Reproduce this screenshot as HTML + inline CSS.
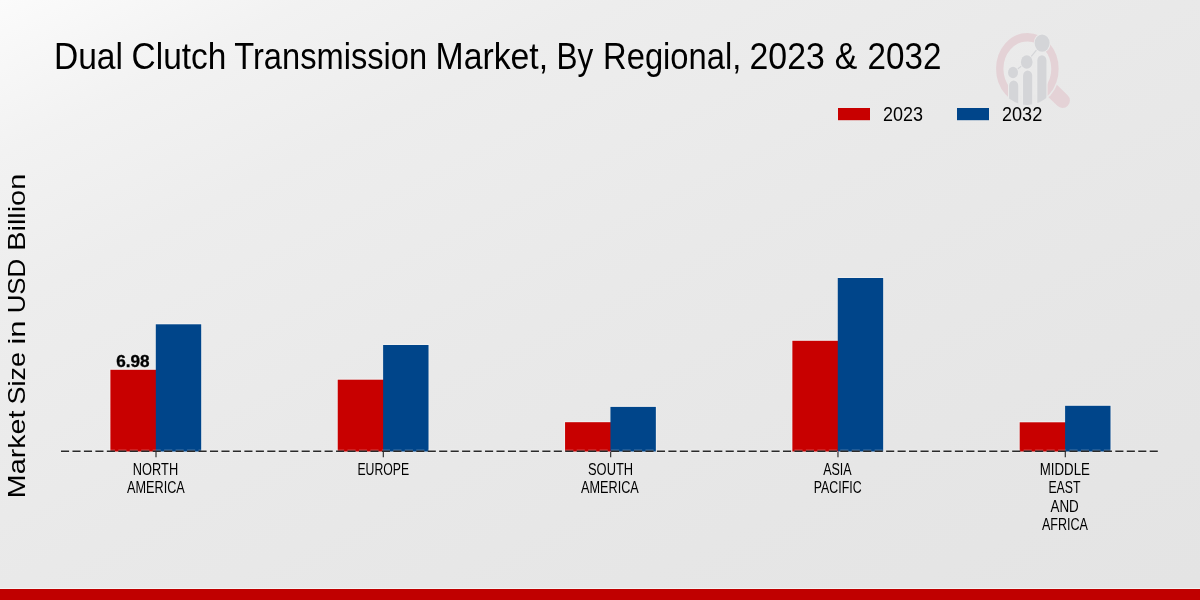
<!DOCTYPE html>
<html><head><meta charset="utf-8">
<style>
html,body{margin:0;padding:0;width:1200px;height:600px;overflow:hidden;background:#e8e8e8;}
svg{display:block;will-change:transform;font-family:"Liberation Sans",sans-serif;}
</style></head>
<body>
<svg width="1200" height="600" viewBox="0 0 1200 600">
<defs>
<linearGradient id="bg" gradientUnits="userSpaceOnUse" x1="0" y1="0" x2="472" y2="944">
<stop offset="0" stop-color="#fbfbfb"/>
<stop offset="0.13" stop-color="#f2f2f2"/>
<stop offset="0.26" stop-color="#ededed"/>
<stop offset="0.5" stop-color="#e9e9e9"/>
<stop offset="0.76" stop-color="#e6e6e6"/>
<stop offset="1" stop-color="#e4e4e4"/>
</linearGradient>
</defs>
<rect x="0" y="0" width="1200" height="600" fill="url(#bg)"/>

<!-- title -->
<g id="title" font-size="37.6" fill="#000">
<text x="53.93" y="69.2" textLength="69.09" lengthAdjust="spacingAndGlyphs">Dual</text>
<text x="131.61" y="69.2" textLength="94.79" lengthAdjust="spacingAndGlyphs">Clutch</text>
<text x="234.26" y="69.2" textLength="192.88" lengthAdjust="spacingAndGlyphs">Transmission</text>
<text x="435.52" y="69.2" textLength="112.54" lengthAdjust="spacingAndGlyphs">Market,</text>
<text x="556.60" y="69.2" textLength="36.76" lengthAdjust="spacingAndGlyphs">By</text>
<text x="603.10" y="69.2" textLength="138.17" lengthAdjust="spacingAndGlyphs">Regional,</text>
<text x="749.59" y="69.2" textLength="75.19" lengthAdjust="spacingAndGlyphs">2023</text>
<text x="834.63" y="69.2" textLength="22.59" lengthAdjust="spacingAndGlyphs">&amp;</text>
<text x="867.52" y="69.2" textLength="73.85" lengthAdjust="spacingAndGlyphs">2032</text>
</g>

<!-- logo watermark -->
<defs>
<clipPath id="lclip"><circle cx="0" cy="0" r="36.3"/></clipPath>
<mask id="rmask" maskUnits="userSpaceOnUse" x="-60" y="-60" width="120" height="120">
<rect x="-60" y="-60" width="120" height="120" fill="#fff"/>
<rect x="-21.5" y="7.2" width="44" height="60" fill="#000"/>
</mask>
<mask id="hmask" maskUnits="userSpaceOnUse" x="980" y="20" width="110" height="100">
<rect x="980" y="20" width="110" height="100" fill="#fff"/>
<ellipse cx="1027.35" cy="68.8" rx="32.9" ry="37.4" fill="#000"/>
</mask>
</defs>
<g id="logo">
<path d="M1053.3 81.25 L1067.66 95.19 A7.4 7.4 0 0 1 1057.34 105.81 L1043 91.9 Z" fill="#e4d2d6" mask="url(#hmask)"/>
<g transform="translate(1027.35 68.8) scale(0.874 1)">
<circle r="28" fill="#ffffff" fill-opacity="0.06"/>
<circle r="31.6" fill="none" stroke="#e4d2d6" stroke-width="8.4" mask="url(#rmask)"/>
<g clip-path="url(#lclip)">
<g fill="#d4d5d8" stroke="#ebebeb" stroke-width="2.4" paint-order="stroke">
<path d="M-20.9 40 V17 A5.25 5.25 0 0 1 -10.4 17 V40 Z"/>
<path d="M-4.9 40 V7 A5.25 5.25 0 0 1 5.6 7 V40 Z"/>
<path d="M11.4 40 V-8.3 A5.25 5.25 0 0 1 21.9 -8.3 V40 Z"/>
</g>
</g>
<path d="M-16.4 3.7 L-0.7 -6.8 L16.9 -25.7" stroke="#d4d5d8" stroke-width="1.3" fill="none"/>
<g fill="#d4d5d8" stroke="#ebebeb" stroke-width="2" paint-order="stroke">
<circle cx="-16.4" cy="3.7" r="5.7"/>
<circle cx="-0.7" cy="-6.8" r="6.7"/>
<circle cx="16.9" cy="-25.7" r="8.6"/>
</g>
</g>
</g>

<!-- legend -->
<rect x="838" y="108" width="32" height="12.2" fill="#c80000"/>
<text id="l1" x="883.08" y="121.2" font-size="20.6" fill="#000" textLength="40.03" lengthAdjust="spacingAndGlyphs">2023</text>
<rect x="957" y="108" width="32" height="12.2" fill="#00458a"/>
<text id="l2" x="1001.98" y="121.2" font-size="20.6" fill="#000" textLength="40.22" lengthAdjust="spacingAndGlyphs">2032</text>

<!-- y label -->
<g id="ylab" transform="translate(25 495.5) rotate(-90)" font-size="23.7" fill="#000">
<text x="-2.66" y="0" textLength="87.58" lengthAdjust="spacingAndGlyphs">Market</text>
<text x="90.95" y="0" textLength="52.45" lengthAdjust="spacingAndGlyphs">Size</text>
<text x="150.91" y="0" textLength="24.11" lengthAdjust="spacingAndGlyphs">in</text>
<text x="182.18" y="0" textLength="54.56" lengthAdjust="spacingAndGlyphs">USD</text>
<text x="244.83" y="0" textLength="76.83" lengthAdjust="spacingAndGlyphs">Billion</text>
</g>

<!-- bars -->
<g id="bars">
<rect x="109.40" y="368.60" width="46.40" height="82.90" fill="#ffffff" fill-opacity="0.3"/>
<rect x="155.80" y="323.10" width="46.40" height="128.40" fill="#ffffff" fill-opacity="0.3"/>
<rect x="336.73" y="378.50" width="46.40" height="73.00" fill="#ffffff" fill-opacity="0.3"/>
<rect x="383.12" y="343.80" width="46.40" height="107.70" fill="#ffffff" fill-opacity="0.3"/>
<rect x="564.05" y="421.00" width="46.40" height="30.50" fill="#ffffff" fill-opacity="0.3"/>
<rect x="610.45" y="405.70" width="46.40" height="45.80" fill="#ffffff" fill-opacity="0.3"/>
<rect x="791.37" y="339.60" width="46.40" height="111.90" fill="#ffffff" fill-opacity="0.3"/>
<rect x="837.77" y="276.80" width="46.40" height="174.70" fill="#ffffff" fill-opacity="0.3"/>
<rect x="1018.70" y="421.10" width="46.40" height="30.40" fill="#ffffff" fill-opacity="0.3"/>
<rect x="1065.10" y="404.60" width="46.40" height="46.90" fill="#ffffff" fill-opacity="0.3"/>
<rect x="110.40" y="369.8" width="46.4" height="81.70" fill="#c80000"/>
<rect x="155.80" y="324.3" width="45.4" height="127.20" fill="#00458a"/>
<rect x="337.73" y="379.7" width="46.4" height="71.80" fill="#c80000"/>
<rect x="383.12" y="345.0" width="45.4" height="106.50" fill="#00458a"/>
<rect x="565.05" y="422.2" width="46.4" height="29.30" fill="#c80000"/>
<rect x="610.45" y="406.9" width="45.4" height="44.60" fill="#00458a"/>
<rect x="792.37" y="340.8" width="46.4" height="110.70" fill="#c80000"/>
<rect x="837.77" y="278.0" width="45.4" height="173.50" fill="#00458a"/>
<rect x="1019.70" y="422.3" width="46.4" height="29.20" fill="#c80000"/>
<rect x="1065.10" y="405.8" width="45.4" height="45.70" fill="#00458a"/>
</g>

<!-- baseline -->
<line x1="61" y1="451.3" x2="1158.5" y2="451.3" stroke="#ffffff" stroke-opacity="0.25" stroke-width="3.6" stroke-dasharray="8.1 3.36"/>
<line x1="61" y1="451.3" x2="1158.5" y2="451.3" stroke="#2a2a2a" stroke-width="1.45" stroke-dasharray="8.1 3.36"/>
<g stroke="#333333" stroke-width="1.2">
<line x1="156.00" y1="452" x2="156.00" y2="457.3"/>
<line x1="383.32" y1="452" x2="383.32" y2="457.3"/>
<line x1="610.65" y1="452" x2="610.65" y2="457.3"/>
<line x1="837.97" y1="452" x2="837.97" y2="457.3"/>
<line x1="1065.30" y1="452" x2="1065.30" y2="457.3"/>
</g>

<!-- value label -->
<text id="v1" x="116.2" y="366.7" font-size="17" font-weight="bold" fill="#000" stroke="#000" stroke-width="0.35" textLength="33.29" lengthAdjust="spacingAndGlyphs">6.98</text>

<!-- x labels -->
<g font-size="16.9" fill="#000" lengthAdjust="spacingAndGlyphs">
<text x="132.84" y="474.8" textLength="45.3" lengthAdjust="spacingAndGlyphs">NORTH</text>
<text x="127.06" y="492.9" textLength="57.74" lengthAdjust="spacingAndGlyphs">AMERICA</text>
<text x="357.39" y="474.8" textLength="51.74" lengthAdjust="spacingAndGlyphs">EUROPE</text>
<text x="588.03" y="474.8" textLength="45.1" lengthAdjust="spacingAndGlyphs">SOUTH</text>
<text x="581.06" y="492.9" textLength="57.74" lengthAdjust="spacingAndGlyphs">AMERICA</text>
<text x="823.16" y="474.8" textLength="28.55" lengthAdjust="spacingAndGlyphs">ASIA</text>
<text x="813.78" y="492.9" textLength="47.81" lengthAdjust="spacingAndGlyphs">PACIFIC</text>
<text x="1039.8" y="474.6" textLength="50.15" lengthAdjust="spacingAndGlyphs">MIDDLE</text>
<text x="1048.38" y="493.1" textLength="32.1" lengthAdjust="spacingAndGlyphs">EAST</text>
<text x="1050.46" y="511.6" textLength="28.26" lengthAdjust="spacingAndGlyphs">AND</text>
<text x="1041.96" y="530.1" textLength="46.05" lengthAdjust="spacingAndGlyphs">AFRICA</text>
</g>

<!-- bottom bar -->
<rect x="0" y="588" width="1200" height="1" fill="#ffffff" fill-opacity="0.5"/>
<rect x="0" y="589" width="1200" height="11" fill="#c00000"/>
</svg>
</body></html>
